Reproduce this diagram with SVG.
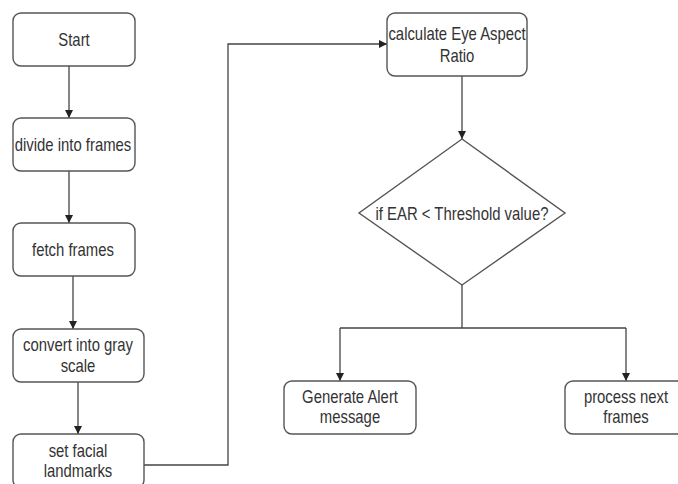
<svg xmlns="http://www.w3.org/2000/svg" width="678" height="484" viewBox="0 0 678 484">
<style>
.box{fill:#fff;stroke:#555;stroke-width:1.4}
.t{font-family:"Liberation Sans",Arial,sans-serif;font-size:17.5px;fill:#333;text-anchor:middle;transform-box:fill-box;transform-origin:center;transform:scaleX(0.85)}
.c{fill:none;stroke:#444;stroke-width:1.3}
</style>
<defs>
<marker id="ah" viewBox="0 0 10 10" refX="10" refY="5" markerWidth="8" markerHeight="8" orient="auto" markerUnits="userSpaceOnUse">
<path d="M0,0 L10,5 L0,10 z" fill="#222"/>
</marker>
</defs>
<rect width="678" height="484" fill="#fff"/>
<g id="connectors">
<path class="c" d="M69,66 V118" marker-end="url(#ah)"/>
<path class="c" d="M69,171 V223" marker-end="url(#ah)"/>
<path class="c" d="M73,276 V329" marker-end="url(#ah)"/>
<path class="c" d="M78,382 V434" marker-end="url(#ah)"/>
<path class="c" d="M144,465 H228 V44 H387" marker-end="url(#ah)"/>
<path class="c" d="M462,76 V139" marker-end="url(#ah)"/>
<path class="c" d="M462,285 V328"/>
<path class="c" d="M340,328 H626"/>
<path class="c" d="M340,328 V381" marker-end="url(#ah)"/>
<path class="c" d="M626,328 V381" marker-end="url(#ah)"/>
</g>
<g id="start">
<rect class="box" x="13" y="13" width="122" height="53" rx="8"/>
<text class="t" x="74" y="46">Start</text>
</g>
<g id="divide">
<rect class="box" x="13" y="118" width="122" height="53" rx="8"/>
<text class="t" x="73" y="151">divide into frames</text>
</g>
<g id="fetch">
<rect class="box" x="13" y="223" width="122" height="53" rx="8"/>
<text class="t" x="73" y="256">fetch frames</text>
</g>
<g id="convert">
<rect class="box" x="13" y="329" width="131" height="53" rx="8"/>
<text class="t" x="78" y="351">convert into gray</text>
<text class="t" x="78" y="372">scale</text>
</g>
<g id="landmarks">
<rect class="box" x="13" y="434" width="131" height="54" rx="8"/>
<text class="t" x="78" y="457">set facial</text>
<text class="t" x="78" y="477">landmarks</text>
</g>
<g id="ear">
<rect class="box" x="387" y="13" width="140" height="63" rx="8"/>
<text class="t" x="457" y="40">calculate Eye Aspect</text>
<text class="t" x="457" y="62">Ratio</text>
</g>
<g id="decision">
<polygon class="box" points="462,139 565,213 462,285 359,213"/>
<text class="t" x="462" y="220">if EAR &lt; Threshold value?</text>
</g>
<g id="alert">
<rect class="box" x="284" y="381" width="132" height="53" rx="8"/>
<text class="t" x="350" y="403">Generate Alert</text>
<text class="t" x="350" y="423">message</text>
</g>
<g id="next">
<rect class="box" x="565" y="381" width="122" height="53" rx="8"/>
<text class="t" x="626" y="403">process next</text>
<text class="t" x="626" y="423">frames</text>
</g>
</svg>
